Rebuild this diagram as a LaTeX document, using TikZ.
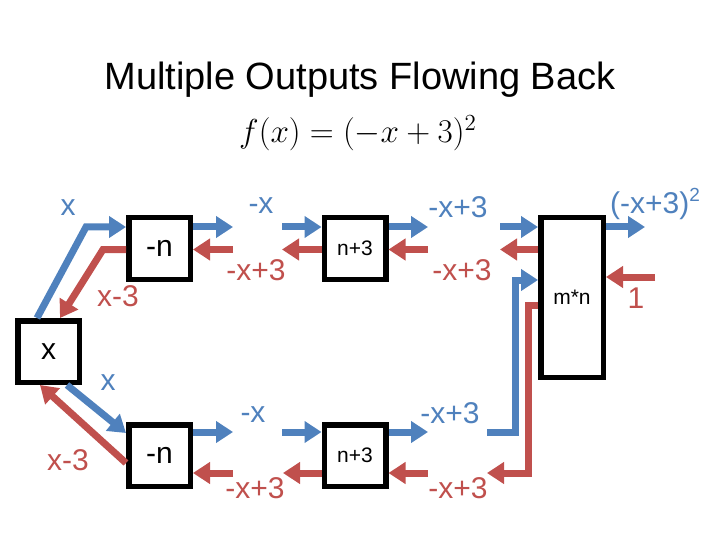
\documentclass[tikz,border=0pt]{standalone}
\usepackage{fontspec}
\setmainfont{Liberation Sans}
\usetikzlibrary{arrows.meta,calc}
\definecolor{bl}{HTML}{4F81BD}
\definecolor{rd}{HTML}{C0504D}
\tikzset{
  conn/.style={line width=7pt, line join=miter, -{Triangle[length=17pt,width=21pt]}},
  bconn/.style={conn, draw=bl},
  rconn/.style={conn, draw=rd},
  box/.style={draw, line width=5.5pt, minimum width=61.5pt, minimum height=61.5pt, inner sep=0pt, font=\fontsize{30}{36}\selectfont},
  sbox/.style={box, font=\fontsize{21}{25}\selectfont},
  lbl/.style={inner sep=0pt, font=\fontsize{30}{36}\selectfont},
  blbl/.style={lbl, text=bl},
  rlbl/.style={lbl, text=rd}
}
\begin{document}
\begin{tikzpicture}[x=1pt,y=-1pt]
\useasboundingbox (0,0) rectangle (720,540);
% title
\node[inner sep=0pt, font=\fontsize{38}{45}\selectfont] (title) at (360,80) {Multiple Outputs Flowing Back};
\node[inner sep=0pt, scale=1.6, font=\fontsize{20}{24}\selectfont] (formula) at (358,133) {$f(x) = (-x+3)^2$};
% boxes
\node[box] (xb) at (48.5,351.5) {x};
\node[box] (n1) at (159.5,248.5) {-n};
\node[box] (n2) at (159.5,455.5) {-n};
\node[sbox] (p1) at (355,248.5) {n+3};
\node[sbox] (p2) at (355,455.5) {n+3};
\node[sbox, minimum width=62.5pt, minimum height=159.5pt] (m) at (572,297.5) {m*n};
% free ends and bends
\coordinate (a1) at (86,227);
\coordinate (a2) at (103,249.5);
\coordinate (t1) at (233,227);
\coordinate (t2) at (233,249.5);
\coordinate (t3) at (282,227);
\coordinate (t4) at (282,249.5);
\coordinate (t5) at (428,227);
\coordinate (t6) at (428,249.5);
\coordinate (t7) at (500,227);
\coordinate (t8) at (500,249.5);
\coordinate (t9) at (645,227);
\coordinate (t10) at (655,277);
\coordinate (u1) at (233,432);
\coordinate (u2) at (233,473);
\coordinate (u3) at (282,432);
\coordinate (u4) at (283,473);
\coordinate (u5) at (428,432);
\coordinate (u6) at (428,473);
\coordinate (u7) at (487,432);
\coordinate (u8) at (515,432);
\coordinate (u9) at (515,280);
\coordinate (u10) at (528,305);
\coordinate (u11) at (528,473);
\coordinate (u12) at (487,473);
% top row
\draw[bconn] ([xshift=-11.5pt]xb.north) -- (a1) -- (n1.west |- a1);
\draw[rconn] (n1.west |- a2) -- (a2) -- ([xshift=11.5pt]xb.north);
\draw[bconn] (n1.east |- t1) -- (t1);
\draw[rconn] (t2) -- (n1.east |- t2);
\draw[bconn] (t3) -- (p1.west |- t3);
\draw[rconn] (p1.west |- t4) -- (t4);
\draw[bconn] (p1.east |- t5) -- (t5);
\draw[rconn] (t6) -- (p1.east |- t6);
\draw[bconn] (t7) -- (m.west |- t7);
\draw[rconn] (m.west |- t8) -- (t8);
\draw[bconn] (m.east |- t9) -- (t9);
\draw[rconn] (t10) -- (m.east |- t10);
% bottom row
\draw[bconn] ([xshift=18.5pt]xb.south) -- (n2.west |- 0,433);
\draw[rconn] (n2.west |- 0,463) -- ([xshift=-8.5pt]xb.south);
\draw[bconn] (n2.east |- u1) -- (u1);
\draw[rconn] (u2) -- (n2.east |- u2);
\draw[bconn] (u3) -- (p2.west |- u3);
\draw[rconn] (p2.west |- u4) -- (u4);
\draw[bconn] (p2.east |- u5) -- (u5);
\draw[rconn] (u6) -- (p2.east |- u6);
\draw[bconn] (u7) -- (u8) -- (u9) -- (m.west |- u9);
\draw[rconn] (m.west |- u10) -- (u10) -- (u11) -- (u12);
% labels
\node[blbl] (l1) at (68,208) {x};
\node[rlbl] (l2) at (118,296) {x-3};
\node[blbl] (l3) at (108,383) {x};
\node[rlbl] (l4) at (68,460) {x-3};
\node[blbl] (l5) at (261,206) {-x};
\node[rlbl] (l6) at (256,270) {-x+3};
\node[blbl] (l7) at (458,207) {-x+3};
\node[rlbl] (l8) at (462,270) {-x+3};
\node[blbl] (l9) at (655,204) {(-x+3)\raisebox{0.4em}{\fontsize{19}{22}\selectfont 2}};
\node[rlbl] (l10) at (636,298) {1};
\node[blbl] (l11) at (253,415) {-x};
\node[rlbl] (l12) at (255,488) {-x+3};
\node[blbl] (l13) at (450,413) {-x+3};
\node[rlbl] (l14) at (458,488) {-x+3};
\end{tikzpicture}
\end{document}
